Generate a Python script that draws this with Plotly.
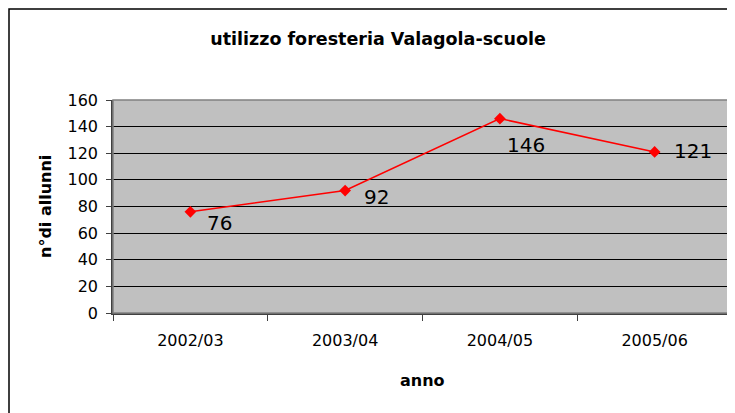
import plotly.graph_objects as go

categories = ["2002/03", "2003/04", "2004/05", "2005/06"]
values = [76, 92, 146, 121]
y_ticks = [0, 20, 40, 60, 80, 100, 120, 140, 160]

# label offsets in pixels (right, down) relative to each point
label_dx = [15, 17, 5, 17]
label_dy = [11, 6, 26, -1]

FONT = "DejaVu Sans"
OFF = 8  # default page body margin
PAGE_W, PAGE_H = 735, 413
W, H = PAGE_W - OFF, PAGE_H - OFF
# plot area in page coordinates
PX0, PX1, PY0, PY1 = 113, 732, 100, 313
L, R, T, B = PX0 - OFF, W - (PX1 - OFF), PY0 - OFF, H - (PY1 - OFF)
pw, ph = PX1 - PX0, PY1 - PY0


def xp(x):  # page x -> paper
    return (x - PX0) / pw


def yp(y):  # page y -> paper
    return (PY1 - y) / ph


fig = go.Figure()
fig.add_trace(go.Scatter(
    x=categories, y=values, mode="lines+markers",
    line=dict(color="#FF0000", width=1.5),
    marker=dict(symbol="diamond", size=9, color="#FF0000"),
    hoverinfo="x+y", showlegend=False,
))

for c, v, dx, dy in zip(categories, values, label_dx, label_dy):
    fig.add_annotation(x=c, y=v, xref="x", yref="y", text=str(v), showarrow=False,
                       xanchor="left", yanchor="middle", xshift=dx, yshift=-dy,
                       font=dict(family=FONT, size=20, color="#000000"))

# axis titles
fig.add_annotation(x=0.5, y=yp(380), xref="paper", yref="paper", text="<b>anno</b>",
                   showarrow=False, xanchor="center", yanchor="middle",
                   font=dict(family=FONT, size=16, color="#000000"))
fig.add_annotation(x=xp(45), y=yp(207), xref="paper", yref="paper",
                   text="<b>n°di allunni</b>", textangle=-90,
                   showarrow=False, xanchor="center", yanchor="middle",
                   font=dict(family=FONT, size=16, color="#000000"))

# outer chart border
fig.add_shape(type="rect", xref="paper", yref="paper",
              x0=xp(OFF + 1), x1=xp(760), y0=yp(440), y1=yp(9),
              line=dict(color="#000000", width=1.5), layer="below")
# plot area frame (top/right gray)
fig.add_shape(type="rect", xref="paper", yref="paper", x0=0, x1=1, y0=0, y1=1,
              line=dict(color="#808080", width=1.5), layer="above")

fig.update_layout(
    width=W, height=H,
    margin=dict(l=L, r=R, t=T, b=B, autoexpand=False),
    paper_bgcolor="#FFFFFF", plot_bgcolor="#C0C0C0",
    title=dict(text="<b>utilizzo foresteria Valagola-scuole</b>",
               x=(378 - OFF) / W, xref="container", xanchor="center",
               y=1 - (39 - OFF) / H, yref="container", yanchor="middle",
               font=dict(family=FONT, size=17.5, color="#000000")),
    font=dict(family=FONT, color="#000000"),
    xaxis=dict(type="category", range=[-0.5, 3.5], tickson="boundaries",
               ticks="outside", ticklen=6, tickcolor="#404040", tickwidth=1,
               showline=True, linecolor="#404040", linewidth=1.5,
               showgrid=False, zeroline=False, ticklabelstandoff=12,
               tickfont=dict(family=FONT, size=16, color="#000000"), fixedrange=True),
    yaxis=dict(range=[0, 160], tickvals=y_ticks, ticktext=[str(t) for t in y_ticks],
               ticks="outside", ticklen=5, tickcolor="#404040", tickwidth=1,
               showline=True, linecolor="#404040", linewidth=1.5,
               showgrid=True, gridcolor="#000000", gridwidth=1, zeroline=False,
               ticklabelstandoff=5,
               tickfont=dict(family=FONT, size=16, color="#000000"), fixedrange=True),
)

fig.write_html("out.html")
